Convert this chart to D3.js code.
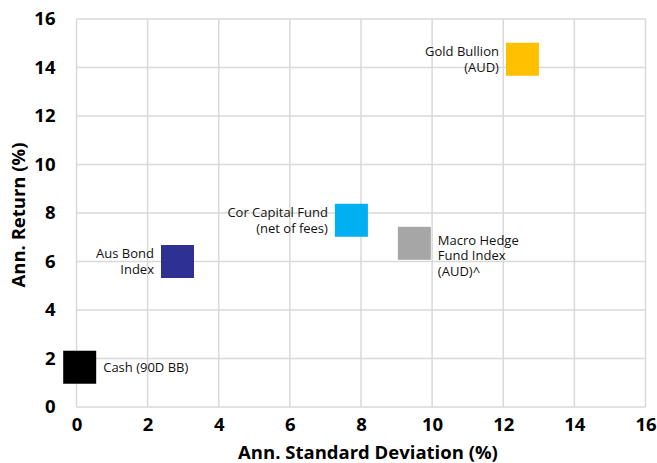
<!DOCTYPE html>
<html><head><meta charset="utf-8">
<script src="https://cdn.jsdelivr.net/npm/d3@7"></script>
<style>body{margin:0;background:#fff}svg{display:block;font-family:"Open Sans",sans-serif}</style>
</head><body><svg id="c" width="657" height="463"></svg>
<script>
const names = ["Cash (90D BB)", "Aus Bond\nIndex", "Cor Capital Fund\n(net of fees)", "Macro Hedge\nFund Index\n(AUD)^", "Gold Bullion\n(AUD)"];
const stdDev = [0.09, 2.84, 7.73, 9.50, 12.54];
const annReturn = [1.64, 6.00, 7.70, 6.75, 14.34];
const colors = ["#000000", "#2E3192", "#00B0F0", "#A6A6A6", "#FFC000"];
const labelSide = ["right", "left", "left", "right", "left"];
const xTicks = [0, 2, 4, 6, 8, 10, 12, 14, 16];
const yTicks = [0, 2, 4, 6, 8, 10, 12, 14, 16];

const svg = d3.select("#c");
const x = d3.scaleLinear().domain([0, 16]).range([76.5, 645.5]);
const y = d3.scaleLinear().domain([0, 16]).range([407, 19]);
const grid = "#d9d9d9";

svg.append("g").selectAll("line").data(xTicks).join("line")
  .attr("x1", d => x(d)).attr("x2", d => x(d)).attr("y1", y(16)).attr("y2", y(0))
  .attr("stroke", grid).attr("stroke-width", 1.5);
svg.append("g").selectAll("line").data(yTicks).join("line")
  .attr("x1", x(0)).attr("x2", x(16)).attr("y1", d => y(d)).attr("y2", d => y(d))
  .attr("stroke", grid).attr("stroke-width", 1.5);

const xAxis = d3.axisBottom(x).tickValues(xTicks).tickSize(0).tickPadding(11);
const gx = svg.append("g").attr("transform", `translate(0,${y(0)})`).call(xAxis);
gx.select(".domain").remove();
gx.selectAll("text").attr("font-size", 18.5).attr("font-weight", "bold").attr("fill", "#000").attr("font-family", "Open Sans");

const yAxis = d3.axisLeft(y).tickValues(yTicks).tickSize(0).tickPadding(21);
const gy = svg.append("g").attr("transform", `translate(${x(0)},0)`).call(yAxis);
gy.select(".domain").remove();
gy.selectAll("text").attr("font-size", 18.5).attr("font-weight", "bold").attr("fill", "#000").attr("font-family", "Open Sans");

svg.append("text").attr("x", 368).attr("y", 459).attr("text-anchor", "middle")
  .attr("font-size", 18.5).attr("font-weight", "bold").text("Ann. Standard Deviation (%)");
svg.append("text").attr("transform", "translate(25,215) rotate(-90)").attr("text-anchor", "middle")
  .attr("font-size", 18.5).attr("font-weight", "bold").text("Ann. Return (%)");

const s = 33;
const data = names.map((n, i) => ({ n, x: stdDev[i], y: annReturn[i], c: colors[i], side: labelSide[i] }));
svg.append("g").selectAll("rect").data(data).join("rect")
  .attr("x", d => x(d.x) - s / 2).attr("y", d => y(d.y) - s / 2)
  .attr("width", s).attr("height", s).attr("fill", d => d.c);

const lh = 15.5;
const lab = svg.append("g").selectAll("text").data(data).join("text")
  .attr("font-size", 13).attr("fill", "#111")
  .attr("text-anchor", d => d.side === "left" ? "end" : "start")
  .attr("x", d => d.side === "left" ? x(d.x) - s / 2 - 7 : x(d.x) + s / 2 + 7)
  .attr("y", d => {
    const lines = d.n.split("\n").length;
    if (lines === 3) return y(d.y) - 3 + 4.5;
    return y(d.y) - (lines - 1) * lh / 2 + 4.5;
  });
lab.each(function (d) {
  const t = d3.select(this);
  d.n.split("\n").forEach((l, j) => {
    t.append("tspan").attr("x", t.attr("x")).attr("dy", j === 0 ? 0 : lh).text(l);
  });
});
</script></body></html>
